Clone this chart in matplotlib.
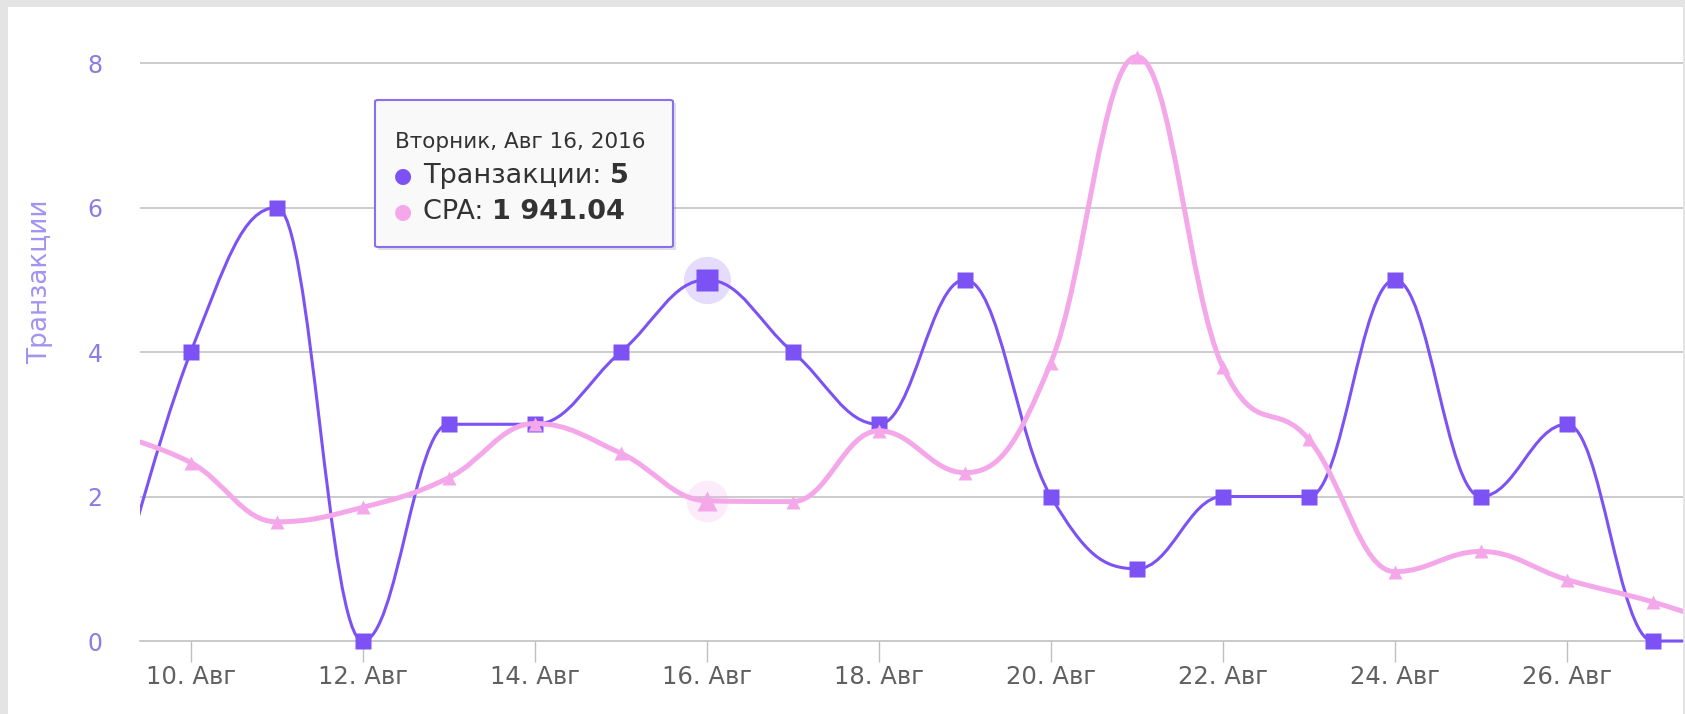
import matplotlib.pyplot as plt
from matplotlib.path import Path
from matplotlib.patches import PathPatch, FancyBboxPatch, Rectangle

# данные по дням (август 2016)
days = [9, 10, 11, 12, 13, 14, 15, 16, 17, 18, 19, 20, 21, 22, 23, 24, 25, 26, 27, 28]
transactions = [0, 4, 6, 0, 3, 3, 4, 5, 4, 3, 5, 2, 1, 2, 2, 5, 2, 3, 0, 0]
cpa = [2900, 2470, 1650, 1850, 2260, 3010, 2600, 1941.04, 1930, 2910, 2330, 3850,
       8090, 3790, 2790, 960, 1240, 850, 540, 150]
tick_days = [10, 12, 14, 16, 18, 20, 22, 24, 26]
tick_labels = [f"{d}. Авг" for d in tick_days]
y_ticks = [0, 2, 4, 6, 8]
hover_day = 16
tooltip_title = "Вторник, Авг 16, 2016"

PURPLE = '#7d52f4'
PINK = '#f4a8ea'
W, H = 1685, 714


def spline_path(xs, ys, smoothing=1.5):
    # сглаживание как у highcharts spline
    n = len(xs)
    left = [None] * n
    right = [None] * n
    d = smoothing + 1
    for i in range(1, n - 1):
        x, y = xs[i], ys[i]
        lx = (smoothing * x + xs[i - 1]) / d
        ly = (smoothing * y + ys[i - 1]) / d
        rx = (smoothing * x + xs[i + 1]) / d
        ry = (smoothing * y + ys[i + 1]) / d
        corr = (ry - ly) * (rx - x) / (rx - lx) + y - ry
        ly += corr
        ry += corr
        if ly > ys[i - 1] and ly > y:
            ly = max(ys[i - 1], y)
            ry = 2 * y - ly
        elif ly < ys[i - 1] and ly < y:
            ly = min(ys[i - 1], y)
            ry = 2 * y - ly
        if ry > ys[i + 1] and ry > y:
            ry = max(ys[i + 1], y)
            ly = 2 * y - ry
        elif ry < ys[i + 1] and ry < y:
            ry = min(ys[i + 1], y)
            ly = 2 * y - ry
        left[i] = (lx, ly)
        right[i] = (rx, ry)
    verts = [(xs[0], ys[0])]
    codes = [Path.MOVETO]
    for i in range(1, n):
        r = right[i - 1] or (xs[i - 1], ys[i - 1])
        l = left[i] or (xs[i], ys[i])
        verts += [r, l, (xs[i], ys[i])]
        codes += [Path.CURVE4] * 3
    return Path(verts, codes)


def fx(px):
    return px / W


def fy(py):
    return 1 - py / H


fig = plt.figure(figsize=(W / 100, H / 100), dpi=100, facecolor='#e4e4e4')
fig.add_artist(Rectangle((fx(8), 0), fx(1683) - fx(8), fy(7), transform=fig.transFigure,
                         facecolor='white', edgecolor='none', zorder=0))

ax = fig.add_axes([fx(140), 1 - 662.7 / H, fx(1683) - fx(140), (662.7 - 26.9) / H])
ax.patch.set_visible(False)
ax.set_xlim(9.41, 27.35)
ax.set_ylim(-0.3, 8.5)

ax2 = ax.twinx()
ax2.set_ylim(-300, 8500)
ax2.axis('off')

for s in ['top', 'right', 'left']:
    ax.spines[s].set_visible(False)
ax.spines['bottom'].set_position(('data', 0))
ax.spines['bottom'].set_color('#c0c0c0')
ax.spines['bottom'].set_linewidth(1.2)

for v in y_ticks[1:]:
    ax.axhline(v, color='#c4c4c4', lw=1.2, zorder=1)

ax.set_xticks(tick_days)
ax.set_xticklabels(tick_labels)
ax.tick_params(axis='x', length=15, width=1, color='#c0c0c0', pad=2,
               labelsize=17.5, labelcolor='#606060')
ax.set_yticks(y_ticks)
ax.tick_params(axis='y', length=0, pad=27, labelsize=17, labelcolor='#8b7de6')

fig.text(fx(40), fy(282), 'Транзакции', rotation=90, ha='center', va='center',
         color='#a393f2', fontsize=19)

# линии
ax.add_patch(PathPatch(spline_path(days, transactions), facecolor='none', edgecolor=PURPLE,
                       lw=2.2, zorder=3))
ax2.add_patch(PathPatch(spline_path(days, cpa), facecolor='none', edgecolor=PINK,
                        lw=3.6, zorder=4))

hi = days.index(hover_day)
others = [i for i in range(len(days)) if i != hi]
ax.plot([days[i] for i in others], [transactions[i] for i in others], 's', color=PURPLE,
        ms=12, mec='none', zorder=4)
ax2.plot([days[i] for i in others], [cpa[i] for i in others], '^', color=PINK,
         ms=10, mec='none', zorder=5)

# наведённые точки
ax.plot(days[hi], transactions[hi], 'o', color=PURPLE, alpha=0.2, ms=34, mec='none', zorder=4)
ax.plot(days[hi], transactions[hi], 's', color=PURPLE, ms=16, mec='none', zorder=5)
ax2.plot(days[hi], cpa[hi], 'o', color=PINK, alpha=0.22, ms=30, mec='none', zorder=5)
ax2.plot(days[hi], cpa[hi], '^', color=PINK, ms=14, mec='none', zorder=6)

# подсказка
bx0, by0, bx1, by1 = 375, 100, 673, 247
fig.add_artist(Rectangle((fx(bx0 + 3), fy(by1 + 3)), fx(bx1 - bx0), fy(by0) - fy(by1),
                         transform=fig.transFigure, facecolor='#000000', alpha=0.12,
                         edgecolor='none', zorder=10))
fig.add_artist(FancyBboxPatch((fx(bx0), fy(by1)), fx(bx1 - bx0), fy(by0) - fy(by1),
                              boxstyle='round,pad=0,rounding_size=0.002',
                              transform=fig.transFigure, facecolor='#f9f9f9',
                              edgecolor='#8a6ff0', lw=1.5, zorder=11))
fig.text(fx(395), fy(142), tooltip_title, ha='left', va='center', fontsize=15.5,
         color='#333333', zorder=12)
fig.text(fx(403), fy(176), '●', ha='center', va='center', fontsize=15, color=PURPLE, zorder=12)
t = fig.text(fx(423), fy(176), 'Транзакции: ', ha='left', va='center', fontsize=19.5,
             color='#333333', zorder=12)
fig.canvas.draw()
bb = t.get_window_extent()
fig.text(bb.x1 / W, fy(176), f"{transactions[hi]}", ha='left', va='center', fontsize=19.5,
         color='#333333', fontweight='bold', zorder=12)
fig.text(fx(403), fy(212), '●', ha='center', va='center', fontsize=15, color=PINK, zorder=12)
t2 = fig.text(fx(423), fy(212), 'CPA: ', ha='left', va='center', fontsize=19.5,
              color='#333333', zorder=12)
fig.canvas.draw()
bb2 = t2.get_window_extent()
cpa_txt = f"{cpa[hi]:,.2f}".replace(',', ' ')
fig.text(bb2.x1 / W, fy(212), cpa_txt, ha='left', va='center', fontsize=19.5,
         color='#333333', fontweight='bold', zorder=12)

fig.savefig('out.png', dpi=100, facecolor=fig.get_facecolor())
